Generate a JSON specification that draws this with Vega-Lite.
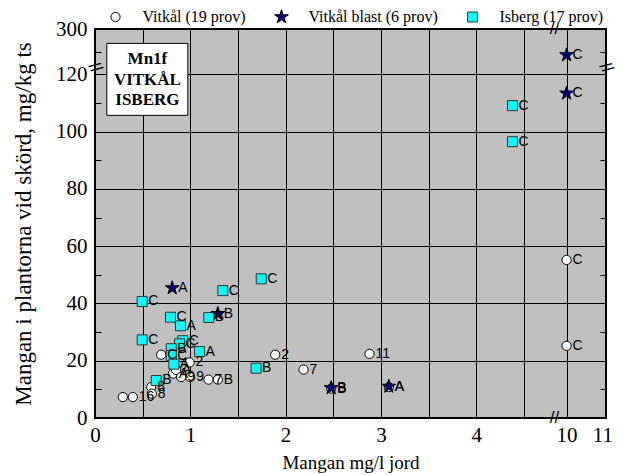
{
  "$schema": "https://vega.github.io/schema/vega-lite/v6.json",
  "width": 511,
  "height": 389,
  "autosize": {"type": "none"},
  "padding": {"left": 95, "top": 29, "right": 19, "bottom": 57},
  "background": "white",
  "config": {
    "view": {"fill": "#c0c0c0", "stroke": "black", "strokeWidth": 2},
    "font": "Liberation Serif"
  },
  "data": {
    "values": [
      {"series": "Vitkål (19 prov)", "x": 10, "y": 55.2, "label": "C"},
      {"series": "Vitkål (19 prov)", "x": 10, "y": 25.2, "label": "C"},
      {"series": "Vitkål (19 prov)", "x": 2.88, "y": 22.4, "label": "11"},
      {"series": "Vitkål (19 prov)", "x": 2.188, "y": 16.9, "label": "7"},
      {"series": "Vitkål (19 prov)", "x": 1.891, "y": 22.1, "label": "2"},
      {"series": "Vitkål (19 prov)", "x": 0.992, "y": 19.4, "label": "2"},
      {"series": "Vitkål (19 prov)", "x": 0.695, "y": 22.1, "label": "C"},
      {"series": "Vitkål (19 prov)", "x": 0.817, "y": 15.5, "label": "A"},
      {"series": "Vitkål (19 prov)", "x": 0.85, "y": 16.8, "label": "A"},
      {"series": "Vitkål (19 prov)", "x": 0.904, "y": 14.3, "label": "9"},
      {"series": "Vitkål (19 prov)", "x": 0.999, "y": 14.3, "label": "9"},
      {"series": "Vitkål (19 prov)", "x": 1.191, "y": 13.4, "label": "7"},
      {"series": "Vitkål (19 prov)", "x": 1.289, "y": 13.4, "label": "B"},
      {"series": "Vitkål (19 prov)", "x": 0.59, "y": 10.8, "label": "8"},
      {"series": "Vitkål (19 prov)", "x": 0.596, "y": 8.5, "label": "8"},
      {"series": "Vitkål (19 prov)", "x": 0.292, "y": 7.3, "label": ""},
      {"series": "Vitkål (19 prov)", "x": 0.397, "y": 7.3, "label": "16"},
      {"series": "Vitkål (19 prov)", "x": 2.478, "y": 10.3, "label": "B"},
      {"series": "Vitkål (19 prov)", "x": 3.083, "y": 10.8, "label": "A"},
      {"series": "Isberg (17 prov)", "x": 4.38, "y": 109.1, "label": "C"},
      {"series": "Isberg (17 prov)", "x": 4.38, "y": 96.5, "label": "C"},
      {"series": "Isberg (17 prov)", "x": 1.744, "y": 48.6, "label": "C"},
      {"series": "Isberg (17 prov)", "x": 1.341, "y": 44.5, "label": "C"},
      {"series": "Isberg (17 prov)", "x": 1.194, "y": 35.1, "label": "B"},
      {"series": "Isberg (17 prov)", "x": 1.097, "y": 23.2, "label": "A"},
      {"series": "Isberg (17 prov)", "x": 1.69, "y": 17.4, "label": "B"},
      {"series": "Isberg (17 prov)", "x": 0.495, "y": 40.7, "label": "C"},
      {"series": "Isberg (17 prov)", "x": 0.792, "y": 35.2, "label": "C"},
      {"series": "Isberg (17 prov)", "x": 0.897, "y": 32.2, "label": "A"},
      {"series": "Isberg (17 prov)", "x": 0.495, "y": 27.3, "label": "C"},
      {"series": "Isberg (17 prov)", "x": 0.921, "y": 27.0, "label": "C"},
      {"series": "Isberg (17 prov)", "x": 0.887, "y": 25.9, "label": "C"},
      {"series": "Isberg (17 prov)", "x": 0.8, "y": 24.2, "label": "B"},
      {"series": "Isberg (17 prov)", "x": 0.8, "y": 21.8, "label": "C"},
      {"series": "Isberg (17 prov)", "x": 0.827, "y": 18.8, "label": "A"},
      {"series": "Isberg (17 prov)", "x": 0.642, "y": 13.1, "label": "B"},
      {"series": "Vitkål blast (6 prov)", "x": 10, "y": 197, "label": "C"},
      {"series": "Vitkål blast (6 prov)", "x": 10, "y": 113.4, "label": "C"},
      {"series": "Vitkål blast (6 prov)", "x": 0.81, "y": 45.4, "label": "A"},
      {"series": "Vitkål blast (6 prov)", "x": 1.289, "y": 36.4, "label": "B"},
      {"series": "Vitkål blast (6 prov)", "x": 2.478, "y": 10.5, "label": "B"},
      {"series": "Vitkål blast (6 prov)", "x": 3.083, "y": 11.0, "label": "A"}
    ]
  },
  "resolve": {"axis": {"x": "independent", "y": "independent"}},
  "layer": [
    {
      "data": {"values": [{"box": "Mn1f"}]},
      "mark": {"type": "rect", "fill": "white", "stroke": "black", "strokeWidth": 1},
      "encoding": {
        "x": {"datum": 0.124, "type": "quantitative", "axis": null, "scale": {"type": "linear", "domain": [0, 4.9, 9.9, 11.1], "range": [0, 467, 468, 511], "nice": false, "zero": false}},
        "x2": {"datum": 0.974},
        "y": {"datum": 243, "type": "quantitative", "axis": null, "scale": {"type": "linear", "domain": [0, 120, 300], "range": [389, 45.4, 0], "nice": false, "zero": false}},
        "y2": {"datum": 105.7}
      }
    },
    {
      "data": {"values": [{"box": "Mn1f"}]},
      "mark": {"type": "text", "text": ["Mn1f", "VITKÅL", "ISBERG"], "font": "Liberation Serif", "fontSize": 17, "fontWeight": "bold", "lineHeight": 20.5, "align": "center", "baseline": "middle", "fill": "black"},
      "encoding": {
        "x": {"datum": 0.55, "type": "quantitative", "axis": null},
        "y": {"datum": 180, "type": "quantitative", "axis": null}
      }
    },
    {
      "mark": {"type": "point", "filled": true, "strokeWidth": 1, "opacity": 1},
      "encoding": {
        "x": {
          "field": "x", "type": "quantitative",
          "scale": {"type": "linear", "domain": [0, 4.9, 9.9, 11.1], "range": [0, 467, 468, 511], "nice": false, "zero": false},
          "axis": {
            "values": [0, 0.5, 1, 1.5, 2, 2.5, 3, 3.5, 4, 4.5, 10, 11],
            "labelExpr": "datum.value % 1 === 0 ? datum.label : ''",
            "labelOverlap": false, "labelFlush": false, "labelBound": false,
            "grid": true, "gridColor": "black", "gridWidth": 1,
            "gridOpacity": {"condition": {"test": "datum.value > 0 && datum.value < 11", "value": 1}, "value": 0},
            "domain": false, "ticks": false,
            "labelPadding": 6, "labelFont": "Liberation Serif", "labelFontSize": 21, "labelColor": "black",
            "title": "Mangan mg/l jord", "titleFont": "Liberation Serif", "titleFontSize": 19, "titleFontWeight": "normal", "titleColor": "black", "titlePadding": 8
          }
        },
        "y": {
          "field": "y", "type": "quantitative",
          "scale": {"type": "linear", "domain": [0, 120, 300], "range": [389, 45.4, 0], "nice": false, "zero": false},
          "axis": {
            "values": [0, 20, 40, 60, 80, 100, 120, 300],
            "labelOverlap": false, "labelFlush": false, "labelBound": false,
            "grid": true, "gridColor": "black", "gridWidth": 1,
            "gridOpacity": {"condition": {"test": "datum.value > 0 && datum.value <= 120", "value": 1}, "value": 0},
            "domain": false, "ticks": false,
            "labelPadding": 8, "labelFont": "Liberation Serif", "labelFontSize": 21, "labelColor": "black",
            "title": "Mangan i plantorna vid skörd, mg/kg ts", "titleFont": "Liberation Serif", "titleFontSize": 23, "titleFontWeight": "normal", "titleColor": "black", "titlePadding": 20
          }
        },
        "fill": {
          "field": "series", "type": "nominal",
          "scale": {"domain": ["Vitkål (19 prov)", "Vitkål blast (6 prov)", "Isberg (17 prov)"], "range": ["white", "#000080", "#00ffff"]},
          "legend": {"title": null, "orient": "none", "legendX": 12.5, "legendY": -20, "direction": "horizontal", "labelFont": "Liberation Serif", "labelFontSize": 16, "labelColor": "black", "symbolStrokeWidth": 1, "columnPadding": 26, "labelOffset": 19, "padding": 0, "symbolOpacity": 1}
        },
        "stroke": {
          "field": "series", "type": "nominal",
          "scale": {"domain": ["Vitkål (19 prov)", "Vitkål blast (6 prov)", "Isberg (17 prov)"], "range": ["black", "black", "#333333"]},
          "legend": {"title": null, "orient": "none", "legendX": 12.5, "legendY": -20, "direction": "horizontal", "labelFont": "Liberation Serif", "labelFontSize": 16, "labelColor": "black", "symbolStrokeWidth": 1, "columnPadding": 26, "labelOffset": 19, "padding": 0, "symbolOpacity": 1}
        },
        "shape": {
          "field": "series", "type": "nominal",
          "scale": {"domain": ["Vitkål (19 prov)", "Vitkål blast (6 prov)", "Isberg (17 prov)"], "range": ["circle", "M0,-1L0.225,-0.309L0.951,-0.309L0.363,0.118L0.588,0.809L0,0.382L-0.588,0.809L-0.363,0.118L-0.951,-0.309L-0.225,-0.309Z", "square"]},
          "legend": {"title": null, "orient": "none", "legendX": 12.5, "legendY": -20, "direction": "horizontal", "labelFont": "Liberation Serif", "labelFontSize": 16, "labelColor": "black", "symbolStrokeWidth": 1, "columnPadding": 26, "labelOffset": 19, "padding": 0, "symbolOpacity": 1}
        },
        "size": {
          "field": "series", "type": "nominal",
          "scale": {"type": "ordinal", "domain": ["Vitkål (19 prov)", "Vitkål blast (6 prov)", "Isberg (17 prov)"], "range": [85, 210, 100]},
          "legend": {"title": null, "orient": "none", "legendX": 12.5, "legendY": -20, "direction": "horizontal", "labelFont": "Liberation Serif", "labelFontSize": 16, "labelColor": "black", "symbolStrokeWidth": 1, "columnPadding": 26, "labelOffset": 19, "padding": 0, "symbolOpacity": 1}
        }
      }
    },
    {
      "mark": {"type": "text", "align": "left", "baseline": "middle", "dx": 6, "font": "Liberation Sans", "fontSize": 14, "fill": "black"},
      "encoding": {
        "x": {"field": "x", "type": "quantitative", "axis": null},
        "y": {
          "field": "y", "type": "quantitative",
          "axis": {
            "orient": "left", "offset": -6, "values": [10, 20, 30, 40, 50, 60, 70, 80, 90, 100, 110, 120, 210],
            "labels": false, "grid": false, "domain": false, "ticks": true, "tickColor": "black", "tickSize": 6, "tickWidth": 1, "title": null
          }
        },
        "text": {"field": "label"}
      }
    },
    {
      "data": {"values": [{"mark": "break"}]},
      "mark": {"type": "text", "text": "//", "font": "Liberation Sans", "fontSize": 17, "align": "center", "baseline": "middle", "fill": "black"},
      "encoding": {
        "x": {"datum": 4.82, "type": "quantitative", "axis": null},
        "y": {
          "datum": 0, "type": "quantitative",
          "axis": {
            "orient": "right", "offset": -6, "values": [10, 20, 30, 40, 50, 60, 70, 80, 90, 100, 110, 120, 210],
            "labels": false, "grid": false, "domain": false, "ticks": true, "tickColor": "black", "tickSize": 6, "tickWidth": 1, "title": null
          }
        }
      }
    },
    {
      "data": {"values": [{"mark": "break"}]},
      "mark": {"type": "text", "text": "//", "font": "Liberation Sans", "fontSize": 17, "align": "center", "baseline": "middle", "fill": "black"},
      "encoding": {
        "x": {"datum": 4.82, "type": "quantitative", "axis": null},
        "y": {"datum": 300, "type": "quantitative", "axis": null}
      }
    },
    {
      "data": {"values": [{"mark": "break"}]},
      "mark": {"type": "text", "text": "//", "font": "Liberation Sans", "fontSize": 17, "align": "center", "baseline": "middle", "angle": 60, "fill": "black"},
      "encoding": {
        "x": {"datum": 0, "type": "quantitative", "axis": null},
        "y": {"datum": 147, "type": "quantitative", "axis": null}
      }
    },
    {
      "data": {"values": [{"mark": "break"}]},
      "mark": {"type": "text", "text": "//", "font": "Liberation Sans", "fontSize": 17, "align": "center", "baseline": "middle", "angle": 60, "fill": "black"},
      "encoding": {
        "x": {"datum": 11.1, "type": "quantitative", "axis": null},
        "y": {"datum": 146, "type": "quantitative", "axis": null}
      }
    }
  ]
}
